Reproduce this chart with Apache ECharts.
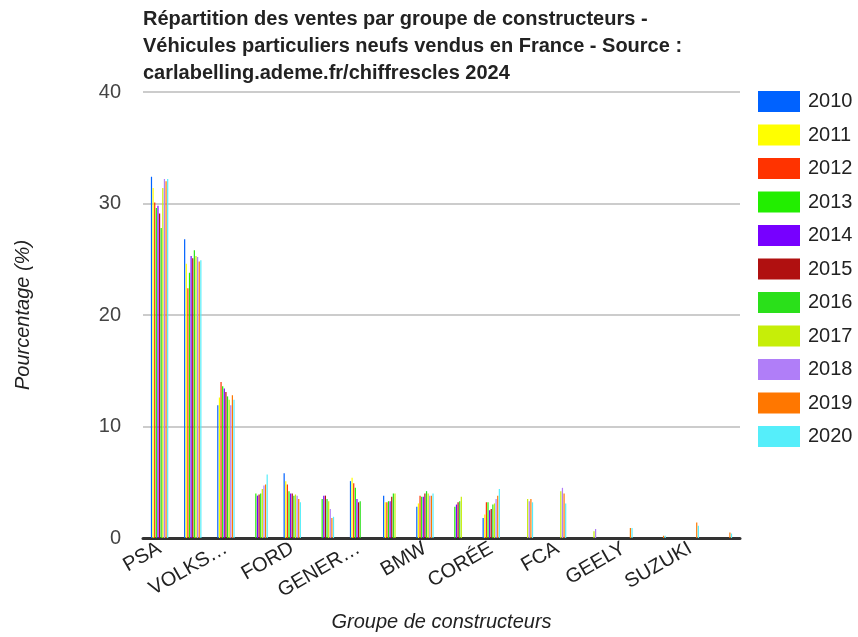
<!DOCTYPE html>
<html>
<head>
<meta charset="utf-8">
<script src="https://cdn.jsdelivr.net/npm/echarts@6/dist/echarts.min.js"></script>
<style>
  html, body { margin: 0; padding: 0; background: #fff; }
  #main { width: 858px; height: 637px; }
</style>
</head>
<body>
<div id="main"></div>
<script>
// groupes de constructeurs (un libellé sur deux est masqué, comme sur l'original)
var groupes = ['PSA', 'RENAULT', 'VOLKSWAGEN', 'TOYOTA', 'FORD', 'NISSAN', 'GENERAL MOTORS', 'FIAT',
  'BMW', 'JAPON', 'CORÉE', 'DAIMLER', 'FCA', 'JLR', 'GEELY', 'TESLA', 'SUZUKI', 'MAZDA'];

var annees = ['2010', '2011', '2012', '2013', '2014', '2015', '2016', '2017', '2018', '2019', '2020'];

var couleurs = ['#0062ff', '#ffff00', '#ff3300', '#22ee00', '#7700ff', '#b01010',
  '#2ae01a', '#c6ee08', '#b07ef8', '#ff7700', '#55eefa'];

// pourcentages par année, dans l'ordre des groupes (null = pas de valeur)
var v2010 = [32.4, 26.8, 11.9, null, 5.8, null, 5.1, 3.8, 2.8, null, 1.8, null, null, null, null, null, null, null];
var v2011 = [31.4, 24.6, 12.6, null, 5.1, null, 5.4, 3.2, 3.1, null, 2.1, null, null, null, null, null, null, null];
var v2012 = [30.1, 22.4, 14.0, null, 4.8, null, 4.9, 3.2, 3.8, null, 3.2, null, null, null, null, null, null, null];
var v2013 = [29.6, 23.8, 13.6, 4.0, 4.2, 3.5, 4.5, 3.3, 3.7, 2.8, 3.2, null, null, null, null, null, null, null];
var v2014 = [29.8, 25.3, 13.4, 3.8, 4.0, 3.8, 3.5, 3.3, 3.7, 3.0, 2.5, null, null, null, null, null, null, null];
var v2015 = [29.1, 25.1, 13.1, 3.9, 4.0, 3.8, 3.2, 3.7, 4.0, 3.2, 2.6, null, null, null, null, null, null, null];
var v2016 = [27.8, 25.8, 12.7, 4.0, 3.8, 3.5, 3.3, 4.0, 4.2, 3.3, 3.0, null, null, null, null, null, null, null];
var v2017 = [31.4, 25.3, 12.4, 4.4, 3.9, 3.3, null, 4.0, 4.0, 3.7, 3.1, 3.5, 4.2, 0.6, null, null, null, null];
var v2018 = [32.2, 25.2, 11.9, 4.7, 3.8, 2.6, null, null, 3.8, null, 3.5, 3.3, 4.5, 0.8, null, null, null, null];
var v2019 = [32.0, 24.8, 12.8, 4.8, 3.5, 1.8, null, null, 3.8, null, 3.8, 3.5, 4.0, null, 0.9, 0.2, 1.4, 0.5];
var v2020 = [32.2, 24.9, 12.4, 5.7, 3.2, 1.9, null, null, 4.0, null, 4.4, 3.2, 3.1, null, 0.9, 0.2, 1.1, 0.4];

var valeurs = [v2010, v2011, v2012, v2013, v2014, v2015, v2016, v2017, v2018, v2019, v2020];

var yTicks = [0, 10, 20, 30, 40];

var police = '"Liberation Sans", Arial, sans-serif';

var myChart = echarts.init(document.getElementById('main'));

var series = [];
for (var i = 0; i < annees.length; i++) {
  series.push({
    name: annees[i],
    type: 'bar',
    data: valeurs[i],
    barWidth: 1.2,
    barGap: '35%',
    itemStyle: { color: couleurs[i] }
  });
}

myChart.setOption({
  backgroundColor: '#fff',
  animation: false,
  color: couleurs,
  textStyle: { fontFamily: police },
  title: {
    text: 'Répartition des ventes par groupe de constructeurs -\nVéhicules particuliers neufs vendus en France - Source :\ncarlabelling.ademe.fr/chiffrescles 2024',
    left: 138,
    top: 1,
    textStyle: {
      fontFamily: police,
      fontSize: 20,
      fontWeight: 'bold',
      color: '#222',
      lineHeight: 27
    }
  },
  legend: {
    orient: 'vertical',
    left: 753,
    top: 86,
    itemWidth: 42,
    itemHeight: 21,
    itemGap: 12.5,
    icon: 'rect',
    data: annees,
    textStyle: { fontFamily: police, fontSize: 20, color: '#222', padding: [0, 0, 0, 3] }
  },
  grid: {
    left: 143,
    right: 118,
    top: 92,
    bottom: 99
  },
  xAxis: {
    type: 'category',
    data: groupes,
    name: 'Groupe de constructeurs',
    nameLocation: 'middle',
    nameGap: 74,
    nameTextStyle: { fontFamily: police, fontSize: 20, fontStyle: 'italic', color: '#222' },
    axisLine: { lineStyle: { color: '#333', width: 3 } },
    axisTick: { show: false },
    axisLabel: {
      interval: 1,
      rotate: 30,
      margin: 9,
      fontFamily: police,
      fontSize: 20,
      color: '#222',
      formatter: function (nom) {
        return nom.length > 8 ? nom.slice(0, 5) + '…' : nom;
      }
    }
  },
  yAxis: {
    type: 'value',
    min: yTicks[0],
    max: yTicks[yTicks.length - 1],
    interval: 10,
    name: 'Pourcentage (%)',
    nameLocation: 'middle',
    nameGap: 110,
    nameTextStyle: { fontFamily: police, fontSize: 20, fontStyle: 'italic', color: '#222' },
    axisLine: { show: false },
    axisTick: { show: false },
    splitLine: { lineStyle: { color: '#cccccc', width: 2 } },
    axisLabel: { fontFamily: police, fontSize: 20, color: '#444', margin: 22 }
  },
  series: series
});
</script>
</body>
</html>
